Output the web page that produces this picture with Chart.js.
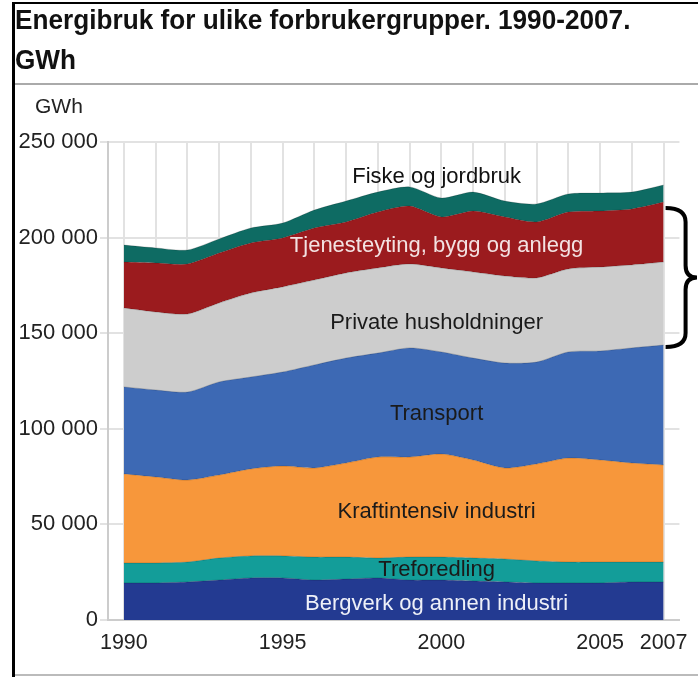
<!DOCTYPE html>
<html>
<head>
<meta charset="utf-8">
<script src="https://cdn.jsdelivr.net/npm/chart.js@4.4.0/dist/chart.umd.min.js"></script>
<style>
  body { margin: 0; background: #fff; font-family: "Liberation Sans", Arial, sans-serif; }
  #wrap { position: relative; width: 698px; height: 677px; overflow: hidden; }
  #chart { position: absolute; left: 0; top: 0; }
  .title { position: absolute; left: 15px; top: 0; font-weight: bold; font-size: 28px; line-height: 40px;
           color: #111; white-space: nowrap; transform: scaleX(0.935); transform-origin: left top; }
  .unit { position: absolute; left: 35px; top: 95px; font-size: 21px; line-height: 21px; color: #222; }
  .line { position: absolute; }
</style>
</head>
<body>
<div id="wrap">
  <canvas id="chart" width="698" height="677"></canvas>
  <div class="title">Energibruk for ulike forbrukergrupper. 1990-2007.<br>GWh</div>
  <div class="unit">GWh</div>
  <div class="line" style="left:12px;top:2px;width:3px;height:677px;background:#000"></div>
  <div class="line" style="left:12px;top:2px;width:686px;height:2px;background:#000"></div>
  <div class="line" style="left:15px;top:83px;width:683px;height:2px;background:#aaa"></div>
  <div class="line" style="left:15px;top:674px;width:683px;height:2px;background:#bbb"></div>
</div>
<script>
// GWh per forbrukergruppe, 1990-2007
const years = [1990, 1991, 1992, 1993, 1994, 1995, 1996, 1997, 1998, 1999, 2000, 2001, 2002, 2003, 2004, 2005, 2006, 2007];
const yearTicks = [1990, 1995, 2000, 2005, 2007];
const yTicks = [0, 50000, 100000, 150000, 200000, 250000];

const bergverk = [19400, 19400, 19900, 20900, 22000, 22000, 20900, 21400, 22000, 20900, 20900, 20400, 19900, 19400, 19400, 19400, 19900, 19900];
const treforedling = [10400, 10400, 10400, 11500, 11500, 11500, 12000, 11500, 10400, 12000, 12000, 12000, 12000, 11500, 10900, 10900, 10400, 10400];
const kraftintensiv = [46600, 45000, 42900, 43400, 45500, 47000, 46600, 49200, 52800, 52300, 53900, 51300, 47600, 50700, 54400, 53400, 51800, 50800];
const transport = [45500, 45500, 46000, 48700, 48100, 49200, 53900, 54900, 54400, 57100, 53400, 53300, 54900, 53300, 55500, 57000, 60200, 62700];
const privat = [41300, 40800, 40800, 41300, 43900, 44500, 44400, 44500, 44500, 43900, 43900, 45000, 45500, 44000, 43400, 43900, 43400, 43400];
const tjeneste = [24000, 25600, 26200, 26100, 26200, 25600, 27200, 26700, 29300, 30300, 26700, 31900, 30900, 29300, 29800, 29300, 29300, 31400];
const fiske = [8900, 7900, 7300, 7400, 7800, 7800, 9400, 10900, 10400, 10000, 9900, 9900, 8300, 9400, 9400, 9400, 8800, 8900];

const series = [
  { name: "Bergverk og annen industri", values: bergverk, color: "#233a91", text: "#eef0f8", at: 8400 },
  { name: "Treforedling", values: treforedling, color: "#139d99", text: "#1a1a1a", at: 26100 },
  { name: "Kraftintensiv industri", values: kraftintensiv, color: "#f7973b", text: "#1a1a1a", at: 56500 },
  { name: "Transport", values: transport, color: "#3d69b4", text: "#1a1a1a", at: 107700 },
  { name: "Private husholdninger", values: privat, color: "#cdcdcd", text: "#1a1a1a", at: 155300 },
  { name: "Tjenesteyting, bygg og anlegg", values: tjeneste, color: "#9b1b1e", text: "#f3e2e2", at: 195600 },
  { name: "Fiske og jordbruk", values: fiske, color: "#0e6b63", text: "#111", at: 231700 },
];
const labelYear = 1999.85;

const datasets = series.map((s, i) => ({
  label: s.name,
  data: s.values.map((v, j) => ({ x: years[j], y: v })),
  backgroundColor: s.color,
  borderColor: "rgba(0,0,0,0.18)",
  borderWidth: 1,
  pointRadius: 0,
  tension: 0.25,
  fill: i === 0 ? "origin" : "-1",
}));

const areaLabels = {
  id: "areaLabels",
  afterDatasetsDraw(chart) {
    const { ctx, scales: { x, y } } = chart;
    ctx.save();
    ctx.font = "22px 'Liberation Sans', Arial, sans-serif";
    ctx.textAlign = "center";
    ctx.textBaseline = "middle";
    series.forEach((s) => {
      ctx.fillStyle = s.text;
      ctx.fillText(s.name, x.getPixelForValue(labelYear), y.getPixelForValue(s.at));
    });

    // brace round Tjenesteyting + Private husholdninger
    const last = years.length - 1;
    const cumTransport = bergverk[last] + treforedling[last] + kraftintensiv[last] + transport[last];
    const cumTjeneste = cumTransport + privat[last] + tjeneste[last];
    const top = y.getPixelForValue(cumTjeneste) + 6;
    const bot = y.getPixelForValue(cumTransport) + 2;
    const mid = (top + bot) / 2;
    const x0 = x.getPixelForValue(years[last]) + 2;
    const xv = x0 + 20, xp = chart.width - 1;
    ctx.strokeStyle = "#000";
    ctx.lineWidth = 4;
    ctx.beginPath();
    ctx.moveTo(x0, top);
    ctx.quadraticCurveTo(xv, top, xv, top + 14);
    ctx.lineTo(xv, mid - 12);
    ctx.quadraticCurveTo(xv, mid, xp, mid);
    ctx.quadraticCurveTo(xv, mid, xv, mid + 12);
    ctx.lineTo(xv, bot - 14);
    ctx.quadraticCurveTo(xv, bot, x0, bot);
    ctx.stroke();
    ctx.restore();
  },
};

new Chart(document.getElementById("chart"), {
  type: "line",
  data: { datasets },
  options: {
    responsive: false,
    animation: false,
    layout: { padding: { left: 0, right: 18, top: 142, bottom: 17 } },
    plugins: { legend: { display: false }, tooltip: { enabled: false } },
    scales: {
      x: {
        type: "linear",
        min: 1989.5,
        max: 2007.5,
        afterBuildTicks: (scale) => { scale.ticks = years.map((v) => ({ value: v })); },
        afterFit: (scale) => { scale.height = 40; },
        ticks: {
          autoSkip: false,
          maxRotation: 0,
          padding: 10,
          color: "#222",
          font: { size: 21.5, family: "'Liberation Sans', Arial, sans-serif" },
          callback: (v) => (yearTicks.includes(v) ? String(v) : ""),
        },
        grid: { color: "#e2e2e2", lineWidth: 2, drawTicks: false },
        border: { display: true, color: "#ccc", width: 2 },
      },
      y: {
        stacked: true,
        min: 0,
        max: 250000,
        afterBuildTicks: (scale) => { scale.ticks = yTicks.map((v) => ({ value: v })); },
        afterFit: (scale) => { scale.width = 108; },
        ticks: {
          padding: 2,
          color: "#222",
          font: { size: 22, family: "'Liberation Sans', Arial, sans-serif" },
          callback: (v) => String(v).replace(/\B(?=(\d{3})+(?!\d))/g, " "),
        },
        grid: { color: "#e2e2e2", lineWidth: 2, tickLength: 8 },
        border: { display: true, color: "#ccc", width: 2 },
      },
    },
  },
  plugins: [areaLabels],
});
</script>
</body>
</html>
